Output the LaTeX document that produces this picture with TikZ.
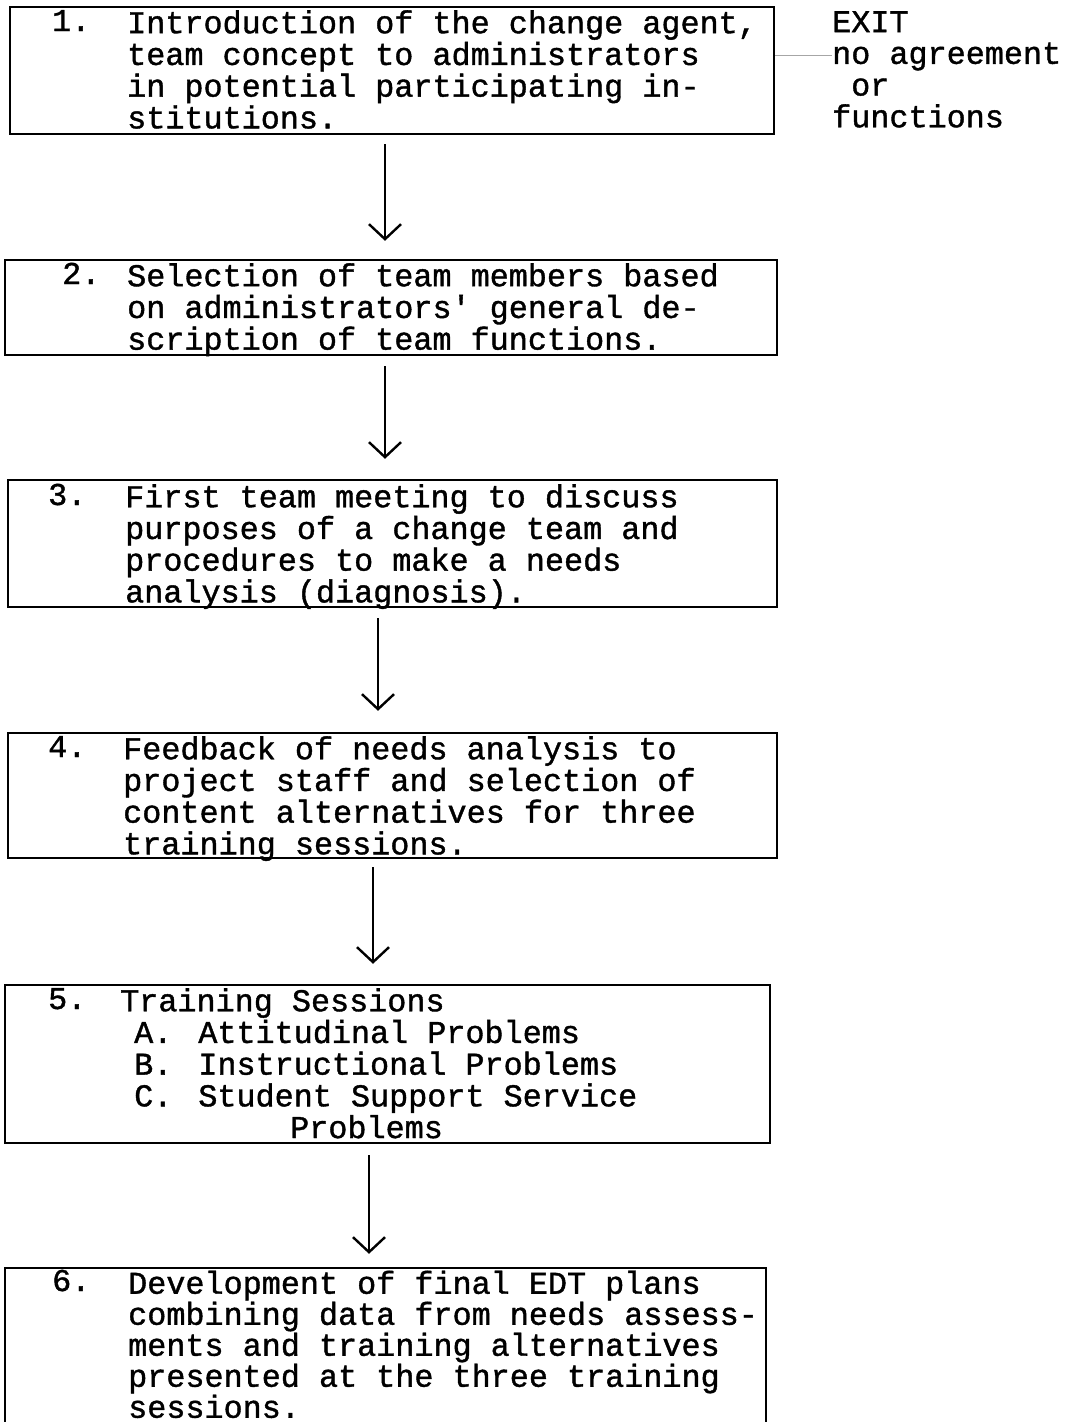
\documentclass[tikz,border=0pt]{standalone}
\usepackage{fontspec}
\newfontfamily\typew{Liberation Mono}[RawFeature={embolden=1.2}]
\usetikzlibrary{arrows.meta,calc}
\begin{document}
\begin{tikzpicture}[x=1pt,y=-1pt,
  stepbox/.style={draw=black, line width=2.4pt, rectangle, inner sep=0pt},
  txt/.style={font=\typew\fontsize{31.8}{31.7}\selectfont, inner sep=0pt, align=left, anchor=north west},
  num/.style={font=\typew\fontsize{31.8}{31.7}\selectfont, inner sep=0pt, anchor=base west},
  flow/.style={line width=2.4pt, -{Straight Barb[length=15pt,width=32pt,line width=2.4pt]}},
  faint/.style={draw=black!35, line width=1pt},
]
\useasboundingbox (0,0) rectangle (1065,1422);
\clip (0,0) rectangle (1065,1422);

% boxes
\node[stepbox, minimum width=764pt, minimum height=127pt] (b1) at (392,70.5) {};
\node[stepbox, minimum width=772pt, minimum height=95pt]  (b2) at (391,307.5) {};
\node[stepbox, minimum width=769pt, minimum height=127pt] (b3) at (392.5,543.5) {};
\node[stepbox, minimum width=769pt, minimum height=125pt] (b4) at (392.5,795.5) {};
\node[stepbox, minimum width=765pt, minimum height=158pt] (b5) at (387.5,1064) {};
\node[stepbox, minimum width=761pt, minimum height=192pt] (b6) at (385.5,1364) {};

% box texts
\node[num] (n1) at (52,31) {1.};
\node[txt] (t1) at (127,10) {Introduction of the change agent,\\team concept to administrators\\in potential participating in-\\stitutions.};
\node[num] (n2) at (62,284) {2.};
\node[txt] (t2) at (127,263) {Selection of team members based\\on administrators' general de-\\scription of team functions.};
\node[num] (n3) at (48,505) {3.};
\node[txt] (t3) at (125,484) {First team meeting to discuss\\purposes of a change team and\\procedures to make a needs\\analysis (diagnosis).};
\node[num] (n4) at (48,757) {4.};
\node[txt] (t4) at (123,736) {Feedback of needs analysis to\\project staff and selection of\\content alternatives for three\\training sessions.};
\node[num] (n5) at (48,1009) {5.};
\node[txt] (t5) at (120,988) {Training Sessions\\
\hspace*{14pt}A.\hspace*{26pt}Attitudinal Problems\\
\hspace*{14pt}B.\hspace*{26pt}Instructional Problems\\
\hspace*{14pt}C.\hspace*{26pt}Student Support Service\\
\hspace*{170pt}Problems};
\node[num] (n6) at (52,1291) {6.};
\node[txt, font=\typew\fontsize{31.8}{31}\selectfont] (t6) at (128,1270.5) {Development of final EDT plans\\combining data from needs assess-\\ments and training alternatives\\presented at the three training\\sessions.};

% exit
\node[txt] (ex) at (832,11) {EXIT\\no agreement\\\hspace*{19pt}or\\functions};

% connectors
\draw[faint] (b1.east |- 0,55) -- (ex.west |- 0,55);
\draw[flow] ($(b1.south)+(-7,9)$) -- ($(b2.north)+(-6,-18)$);
\draw[flow] ($(b2.south)+(-6,10)$) -- ($(b3.north)+(-7.5,-20)$);
\draw[flow] ($(b3.south)+(-14.5,10)$) -- ($(b4.north)+(-14.5,-21)$);
\draw[flow] ($(b4.south)+(-19.5,8)$) -- ($(b5.north)+(-14.5,-20)$);
\draw[flow] ($(b5.south)+(-18.5,11)$) -- ($(b6.north)+(-16.5,-13)$);
\end{tikzpicture}
\end{document}
